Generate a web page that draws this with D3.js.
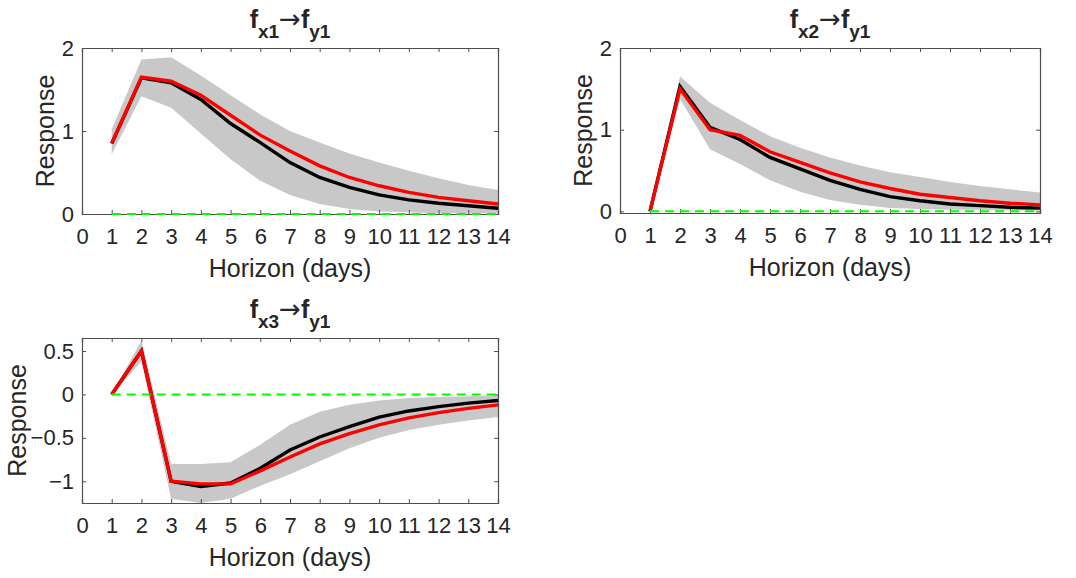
<!DOCTYPE html>
<html>
<head>
<meta charset="utf-8">
<script src="https://cdn.jsdelivr.net/npm/d3@7"></script>
<style>
  body { margin: 0; background: #fff; }
  svg text { font-family: "Liberation Sans", Arial, Helvetica, sans-serif; fill: #262626; }
</style>
</head>
<body>
<div id="chart"></div>
<script>
// horizon steps
const horizon = [1, 2, 3, 4, 5, 6, 7, 8, 9, 10, 11, 12, 13, 14];
const xTicks = [0, 1, 2, 3, 4, 5, 6, 7, 8, 9, 10, 11, 12, 13, 14];

// f_x1 -> f_y1
const p1Black = [0.85, 1.64, 1.58, 1.38, 1.09, 0.86, 0.62, 0.44, 0.32, 0.23, 0.17, 0.13, 0.10, 0.07];
const p1Red   = [0.85, 1.65, 1.60, 1.43, 1.19, 0.95, 0.76, 0.58, 0.44, 0.34, 0.26, 0.20, 0.16, 0.12];
const p1Upper = [1.02, 1.86, 1.89, 1.67, 1.43, 1.20, 1.00, 0.86, 0.73, 0.62, 0.52, 0.43, 0.35, 0.29];
const p1Lower = [0.72, 1.42, 1.28, 0.97, 0.66, 0.40, 0.23, 0.12, 0.06, 0.03, 0.02, 0.01, 0.01, 0.01];

// f_x2 -> f_y1
const p2Black = [0.00, 1.53, 1.03, 0.88, 0.66, 0.52, 0.38, 0.27, 0.18, 0.13, 0.09, 0.07, 0.05, 0.04];
const p2Red   = [0.00, 1.50, 1.00, 0.93, 0.73, 0.60, 0.47, 0.36, 0.28, 0.21, 0.17, 0.13, 0.10, 0.08];
const p2Upper = [0.00, 1.65, 1.33, 1.12, 0.92, 0.78, 0.66, 0.56, 0.48, 0.42, 0.36, 0.31, 0.27, 0.23];
const p2Lower = [0.00, 1.38, 0.76, 0.58, 0.38, 0.24, 0.14, 0.08, 0.04, 0.03, 0.02, 0.02, 0.01, 0.01];

// f_x3 -> f_y1
const p3Black = [0.00, 0.50, -1.00, -1.06, -1.02, -0.85, -0.64, -0.49, -0.37, -0.26, -0.19, -0.14, -0.10, -0.07];
const p3Red   = [0.00, 0.50, -1.00, -1.03, -1.03, -0.88, -0.72, -0.57, -0.45, -0.35, -0.27, -0.21, -0.16, -0.12];
const p3Upper = [0.00, 0.62, -0.80, -0.80, -0.78, -0.58, -0.35, -0.20, -0.12, -0.07, -0.04, -0.03, -0.02, -0.01];
const p3Lower = [0.00, 0.38, -1.20, -1.25, -1.20, -1.05, -0.92, -0.77, -0.62, -0.50, -0.41, -0.35, -0.30, -0.26];

const panels = [
  { src: "x1", box: [82, 48, 498, 214], yDomain: [0, 2], yTicks: [0, 1, 2], yLabelX: 45,
    black: p1Black, red: p1Red, upper: p1Upper, lower: p1Lower },
  { src: "x2", box: [620, 48, 1040, 213], yDomain: [-0.02, 2], yTicks: [0, 1, 2], yLabelX: 583,
    black: p2Black, red: p2Red, upper: p2Upper, lower: p2Lower },
  { src: "x3", box: [82, 338, 498, 503], yDomain: [-1.25, 0.65], yTicks: [-1, -0.5, 0, 0.5], yLabelX: 17,
    black: p3Black, red: p3Red, upper: p3Upper, lower: p3Lower }
];

const svg = d3.select("#chart").append("svg")
  .attr("width", 1076)
  .attr("height", 578);

function drawPanel(p) {
  const [x0, y0, x1, y1] = p.box;
  const x = d3.scaleLinear().domain([0, 14]).range([x0, x1]);
  const y = d3.scaleLinear().domain(p.yDomain).range([y1, y0]);
  const g = svg.append("g");

  // confidence band
  const band = d3.area()
    .x((d, i) => x(horizon[i]))
    .y0((d, i) => y(p.lower[i]))
    .y1((d, i) => y(p.upper[i]));
  g.append("path").datum(horizon).attr("d", band).attr("fill", "#c8c8c8");

  const line = d3.line().x((d, i) => x(horizon[i])).y(d => y(d));
  g.append("path").datum(p.black).attr("d", line)
    .attr("fill", "none").attr("stroke", "#000").attr("stroke-width", 3.4);
  g.append("path").datum(p.red).attr("d", line)
    .attr("fill", "none").attr("stroke", "#ff0000").attr("stroke-width", 3.4);

  // axes, ticks inward, box on
  const tk = 4;
  g.append("g").attr("transform", `translate(0,${y1})`)
    .call(d3.axisBottom(x).tickValues(xTicks).tickSize(-tk).tickPadding(14).tickFormat(d3.format("d")));
  g.append("g").attr("transform", `translate(0,${y0})`)
    .call(d3.axisTop(x).tickValues(xTicks).tickSize(-tk).tickFormat(""));
  g.append("g").attr("transform", `translate(${x0},0)`)
    .call(d3.axisLeft(y).tickValues(p.yTicks).tickSize(-tk).tickPadding(8).tickFormat(d => d3.format("")(d)));
  g.append("g").attr("transform", `translate(${x1},0)`)
    .call(d3.axisRight(y).tickValues(p.yTicks).tickSize(-tk).tickFormat(""));

  g.selectAll(".domain").attr("stroke", "#4d4d4d").attr("stroke-width", 1.2);
  g.selectAll(".tick line").attr("stroke", "#4d4d4d");
  g.selectAll(".tick text").attr("font-size", 22).attr("fill", "#262626")
    .style("font-family", "'Liberation Sans', Arial, sans-serif");

  // zero line (drawn over the axis like the original)
  g.append("line")
    .attr("x1", x(1)).attr("x2", x(14))
    .attr("y1", y(0)).attr("y2", y(0))
    .attr("stroke", "#00ff00").attr("stroke-width", 2)
    .attr("stroke-dasharray", "9,6");

  // axis titles
  g.append("text")
    .attr("x", (x0 + x1) / 2).attr("y", y1 + 63)
    .attr("text-anchor", "middle").attr("font-size", 25)
    .text("Horizon (days)");
  g.append("text")
    .attr("transform", `translate(${p.yLabelX},${(y0 + y1) / 2}) rotate(-90)`)
    .attr("dy", "0.35em")
    .attr("text-anchor", "middle").attr("font-size", 25)
    .text("Response");

  // panel title: f_{src} -> f_{y1}
  const t = g.append("text")
    .attr("x", (x0 + x1) / 2).attr("y", y0 - 20)
    .attr("text-anchor", "middle").attr("font-weight", "bold").attr("font-size", 25);
  t.append("tspan").text("f");
  t.append("tspan").attr("dy", 10).attr("font-size", 19).text(p.src);
  t.append("tspan").attr("dy", -10).attr("font-weight", "normal").attr("font-size", 26)
    .style("font-family", "'DejaVu Sans', sans-serif").text("\u2192");
  t.append("tspan").text("f");
  t.append("tspan").attr("dy", 10).attr("font-size", 19).text("y1");
}

panels.forEach(drawPanel);
</script>
</body>
</html>
